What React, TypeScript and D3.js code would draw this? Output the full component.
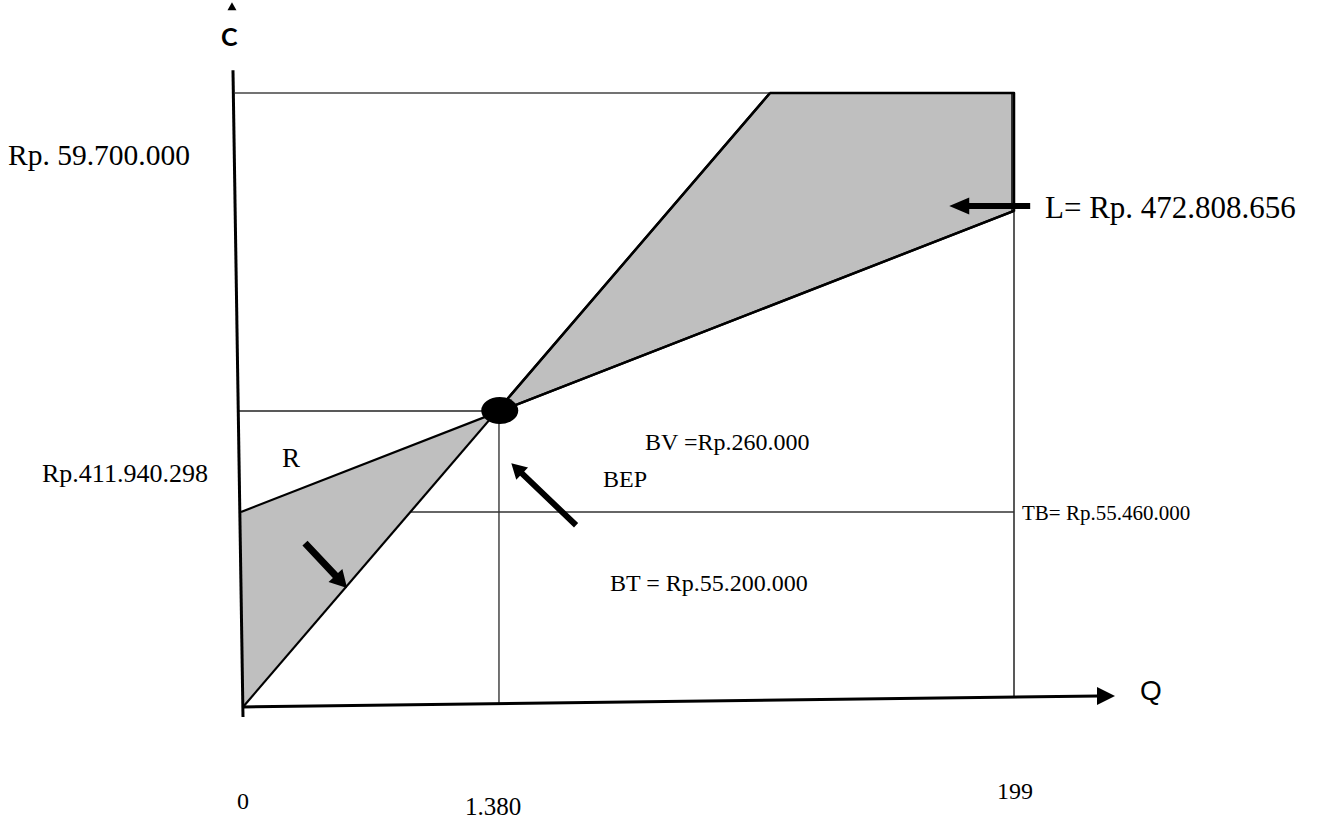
import React from "react";
import * as d3 from "d3";

// ---- Data (diagram units: Q on 0..100, C on 0..100; the picture is schematic) ----
const revenueLine = [
  { q: 0, c: 0 },
  { q: 68.35, c: 100 },
];
const costLine = [
  { q: -0.26, c: 31.76 },
  { q: 100, c: 80.8 },
];
const bepPoint = { q: 33.3, c: 48.3 };
const lossArea = [
  { q: 0, c: 0 },
  { q: -0.26, c: 31.76 },
  { q: 32.74, c: 47.9 },
];
const profitArea = [
  { q: 32.74, c: 47.9 },
  { q: 68.35, c: 100 },
  { q: 100, c: 100 },
  { q: 100, c: 80.8 },
];
const topLine = [
  { q: -1.04, c: 100 },
  { q: 68.35, c: 100 },
];
const bepHLine = [
  { q: -0.65, c: 48.2 },
  { q: 33.0, c: 48.2 },
];
const bepVLine = [
  { q: 33.2, c: 48 },
  { q: 33.2, c: 0.55 },
];
const rightVLine = [
  { q: 100, c: 80.8 },
  { q: 100, c: 1.75 },
];
const tbLine = [
  { q: 21.7, c: 31.76 },
  { q: 100, c: 31.76 },
];
const yAxisLine = [
  { q: 0, c: -1.63 },
  { q: -1.3, c: 103.7 },
];
const xAxisLine = [
  { q: 0, c: 0 },
  { q: 113.1, c: 1.79 },
];
const yArrowTip = { q: -1.43, c: 114.8 };

// annotation arrows: [tail, tip]
const arrowL = [{ q: 102.1, c: 81.6 }, { q: 91.6, c: 81.6 }];
const arrowLoss = [{ q: 8.04, c: 26.7 }, { q: 13.5, c: 19.4 }];
const arrowBep = [{ q: 43.2, c: 29.6 }, { q: 34.8, c: 39.7 }];

const qTickLabels = ["0", "1.380", "199"];
const cTickLabels = ["Rp. 59.700.000", "Rp.411.940.298"];
const notes = {
  loss: "L= Rp. 472.808.656",
  r: "R",
  bv: "BV =Rp.260.000",
  bep: "BEP",
  bt: "BT = Rp.55.200.000",
  tb: "TB= Rp.55.460.000",
};

const W = 1320;
const H = 819;

export default function App() {
  const x = d3.scaleLinear().domain([0, 100]).range([243, 1014]);
  const y = d3.scaleLinear().domain([0, 100]).range([707, 93]);

  const line = d3
    .line<{ q: number; c: number }>()
    .x((d) => x(d.q))
    .y((d) => y(d.c));
  const poly = (pts: { q: number; c: number }[]) => line(pts) + "Z";

  const arrowPath = (
    pts: { q: number; c: number }[],
    w: number,
    hl: number,
    hw: number
  ) => {
    const x0 = x(pts[0].q),
      y0 = y(pts[0].c),
      x1 = x(pts[1].q),
      y1 = y(pts[1].c);
    const dx = x1 - x0,
      dy = y1 - y0;
    const len = Math.hypot(dx, dy);
    const ux = dx / len,
      uy = dy / len;
    const nx = -uy,
      ny = ux;
    const bx = x1 - ux * hl,
      by = y1 - uy * hl;
    const p = [
      [x0 + nx * w / 2, y0 + ny * w / 2],
      [bx + nx * w / 2, by + ny * w / 2],
      [bx + nx * hw, by + ny * hw],
      [x1, y1],
      [bx - nx * hw, by - ny * hw],
      [bx - nx * w / 2, by - ny * w / 2],
      [x0 - nx * w / 2, y0 - ny * w / 2],
    ];
    return "M" + p.map((d) => d.join(",")).join("L") + "Z";
  };

  const xEnd = xAxisLine[1];
  const xTip = [x(xEnd.q), y(xEnd.c)];
  const ytx = x(yArrowTip.q),
    yty = y(yArrowTip.c);

  const serif = "'Liberation Serif', 'Times New Roman', serif";
  const sans = "'Liberation Sans', Arial, sans-serif";

  return (
    <svg
      width={W}
      height={H}
      viewBox={`0 0 ${W} ${H}`}
      style={{ position: "absolute", left: 0, top: 0, background: "#fff" }}
    >
      <rect width={W} height={H} fill="#fff" />
      {/* shaded areas */}
      <path d={poly(lossArea)} fill="#bfbfbf" stroke="none" />
      <path d={poly(profitArea)} fill="#bfbfbf" stroke="#000" strokeWidth={2.5} strokeLinejoin="round" />
      {/* doubled right edge of profit area */}
      <path
        d={`M${x(100) - 2},${y(100)}L${x(100) - 2},${y(80.8)}`}
        stroke="#000"
        strokeWidth={1.5}
        fill="none"
      />

      {/* thin reference lines */}
      <path d={line(topLine)!} stroke="#444" strokeWidth={1.5} fill="none" />
      <path d={line(bepHLine)!} stroke="#222" strokeWidth={1.5} fill="none" />
      <path d={line(bepVLine)!} stroke="#444" strokeWidth={1.5} fill="none" />
      <path d={line(rightVLine)!} stroke="#222" strokeWidth={1.5} fill="none" />
      <path d={line(tbLine)!} stroke="#333" strokeWidth={1.5} fill="none" />

      {/* revenue and cost lines */}
      <path d={line(revenueLine)!} stroke="#000" strokeWidth={2.2} fill="none" />
      <path d={line(costLine)!} stroke="#000" strokeWidth={2.2} fill="none" />

      {/* axes */}
      <path d={line(yAxisLine)!} stroke="#000" strokeWidth={3} fill="none" />
      <path
        d={`M${x(0)},${y(0)}L${xTip[0] - 16},${xTip[1]}`}
        stroke="#000"
        strokeWidth={3}
        fill="none"
      />
      <path
        d={`M${xTip[0]},${xTip[1]}L${xTip[0] - 18},${xTip[1] - 9}L${xTip[0] - 18},${xTip[1] + 9}Z`}
        fill="#000"
      />
      <path d={`M${ytx},${yty}L${ytx - 4.5},${yty + 8}L${ytx + 4.5},${yty + 8}Z`} fill="#000" />

      {/* BEP point */}
      <ellipse cx={x(bepPoint.q)} cy={y(bepPoint.c)} rx={18.5} ry={13.5} fill="#000" />

      {/* arrows */}
      <path d={arrowPath(arrowL, 6, 20, 8.5)} fill="#000" />
      <path d={arrowPath(arrowLoss, 7, 17, 9.5)} fill="#000" />
      <path d={arrowPath(arrowBep, 6, 15, 8.5)} fill="#000" />

      {/* axis letters */}
      <text x={221} y={46} fontFamily="Lato, 'Open Sans', sans-serif" fontWeight="bold" fontSize={25} fill="#000">
        C
      </text>
      <text x={1140} y={700} fontFamily={sans} fontSize={28} fill="#000">
        Q
      </text>

      {/* C labels */}
      <text x={8} y={165} fontFamily={serif} fontSize={29.5} fill="#000">
        {cTickLabels[0]}
      </text>
      <text x={42} y={482} fontFamily={serif} fontSize={26} fill="#000">
        {cTickLabels[1]}
      </text>

      {/* Q labels */}
      <text x={237} y={809} fontFamily={serif} fontSize={24} fill="#000">
        {qTickLabels[0]}
      </text>
      <text x={465} y={815} fontFamily={serif} fontSize={25} fill="#000">
        {qTickLabels[1]}
      </text>
      <text x={997} y={799} fontFamily={serif} fontSize={24} fill="#000">
        {qTickLabels[2]}
      </text>

      {/* notes */}
      <text x={1045} y={218} fontFamily={serif} fontSize={31} fill="#000">
        {notes.loss}
      </text>
      <text x={282} y={467} fontFamily={serif} fontSize={27} fill="#000">
        {notes.r}
      </text>
      <text x={645} y={450} fontFamily={serif} fontSize={24} fill="#000">
        {notes.bv}
      </text>
      <text x={603} y={487} fontFamily={serif} fontSize={24} fill="#000">
        {notes.bep}
      </text>
      <text x={610} y={591} fontFamily={serif} fontSize={24} fill="#000">
        {notes.bt}
      </text>
      <text x={1022} y={520} fontFamily={serif} fontSize={21} fill="#000">
        {notes.tb}
      </text>
    </svg>
  );
}
